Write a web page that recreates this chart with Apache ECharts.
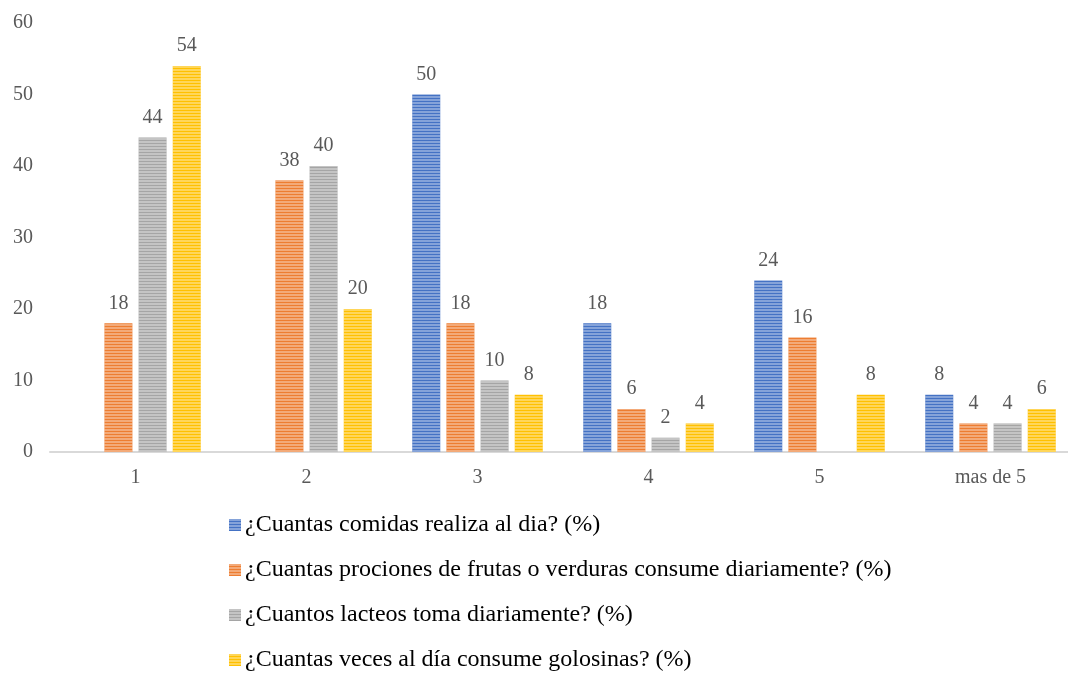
<!DOCTYPE html>
<html>
<head>
<meta charset="utf-8">
<script src="https://cdn.jsdelivr.net/npm/echarts@6/dist/echarts.min.js"></script>
<style>
  html, body { margin: 0; padding: 0; background: #ffffff; overflow: hidden; }
  #chart { width: 1076px; height: 700px; }
</style>
</head>
<body>
<div id="chart"></div>
<script>
// Categories on the horizontal axis
const categories = ['1', '2', '3', '4', '5', 'mas de 5'];

// Series names
const seriesNames = [
  '¿Cuantas comidas realiza al dia? (%)',
  '¿Cuantas prociones de frutas o verduras consume diariamente? (%)',
  '¿Cuantos lacteos toma diariamente? (%)',
  '¿Cuantas veces al día consume golosinas? (%)'
];

// Percentages per category
const comidas   = [0, 0, 50, 18, 24, 8];
const frutas    = [18, 38, 18, 6, 16, 4];
const lacteos   = [44, 40, 10, 2, 0, 4];
const golosinas = [54, 20, 8, 4, 8, 6];

// Y axis range
const yMin = 0, yMax = 60, yStep = 10;

const colors = ['#4472C4', '#ED7D31', '#A5A5A5', '#FFC000'];
const values = [comidas, frutas, lacteos, golosinas];

const font = '"Liberation Serif", "Times New Roman", serif';

// Horizontal light stripes over each bar
const stripes = {
  symbol: 'rect',
  symbolSize: 1,
  dashArrayX: [1, 0],
  dashArrayY: [2, 1],
  color: 'rgba(255,255,255,0.35)'
};

const chart = echarts.init(document.getElementById('chart'));

chart.setOption({
  animation: false,
  backgroundColor: '#ffffff',
  aria: { enabled: false, decal: { show: false } },
  grid: { left: 50, top: 23, right: 0, height: 429, containLabel: false },
  xAxis: {
    type: 'category',
    data: categories,
    axisLine: { show: true, lineStyle: { color: '#D9D9D9', width: 2 } },
    axisTick: { show: false },
    axisLabel: { color: '#595959', fontFamily: font, fontSize: 20, margin: 16 }
  },
  yAxis: {
    type: 'value',
    min: yMin,
    max: yMax,
    interval: yStep,
    axisLine: { show: false },
    axisTick: { show: false },
    splitLine: { show: false },
    axisLabel: { color: '#595959', fontFamily: font, fontSize: 20, margin: 17 }
  },
  legend: {
    orient: 'vertical',
    left: 224,
    top: 508,
    itemWidth: 12,
    itemHeight: 12,
    itemGap: 21,
    icon: 'rect',
    textStyle: { color: '#000000', fontFamily: font, fontSize: 24, padding: [0, 0, 0, -1] },
    data: seriesNames
  },
  series: seriesNames.map((name, i) => ({
    name: name,
    type: 'bar',
    data: values[i],
    barWidth: 28,
    barGap: '22%',
    barCategoryGap: '24%',
    itemStyle: { color: colors[i], decal: stripes },
    label: {
      show: true,
      position: 'top',
      distance: 10,
      color: '#595959',
      fontFamily: font,
      fontSize: 20,
      formatter: p => (p.value === 0 ? '' : String(p.value))
    }
  }))
});
</script>
</body>
</html>
